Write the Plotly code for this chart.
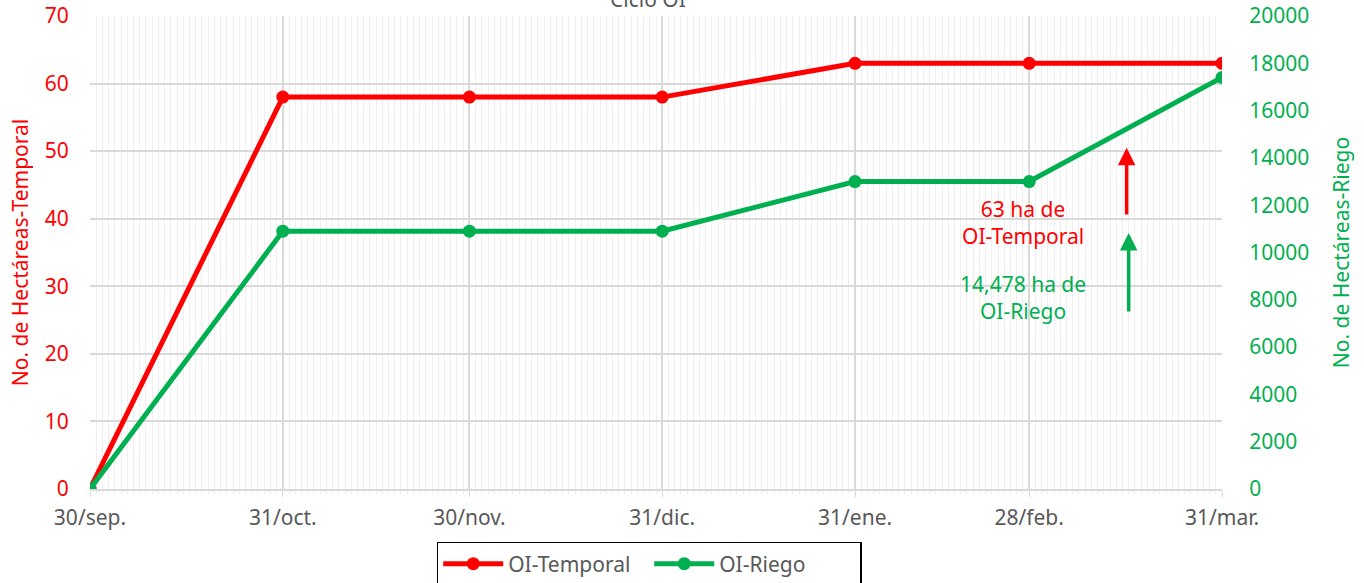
import plotly.graph_objects as go

fechas = ["2022-09-30", "2022-10-31", "2022-11-30", "2022-12-31", "2023-01-31", "2023-02-28", "2023-03-31"]
etiquetas = ["30/sep.", "31/oct.", "30/nov.", "31/dic.", "31/ene.", "28/feb.", "31/mar."]
oi_temporal = [0, 58, 58, 58, 63, 63, 63]
oi_riego = [0, 10900, 10900, 10900, 13000, 13000, 17400]

ROJO = "#FF0000"
VERDE = "#00B050"
GRIS = "#595959"
FONT = "Noto Sans"
FS = 21

fig = go.Figure()
fig.add_trace(go.Scatter(x=fechas, y=oi_temporal, name="OI-Temporal", mode="lines+markers",
                         line=dict(color=ROJO, width=5), marker=dict(size=13, color=ROJO), yaxis="y"))
fig.add_trace(go.Scatter(x=fechas, y=oi_riego, name="OI-Riego", mode="lines+markers",
                         line=dict(color=VERDE, width=5), marker=dict(size=13, color=VERDE), yaxis="y2"))

# arrows
fig.add_annotation(x="2023-03-15 16:00", y=50.5, ax="2023-03-15 16:00", ay=40.4, xref="x", yref="y", axref="x", ayref="y",
                   showarrow=True, arrowhead=2, arrowsize=1, arrowwidth=3.5, arrowcolor=ROJO, text="")
fig.add_annotation(x="2023-03-16", y=10824, ax="2023-03-16", ay=7442, xref="x", yref="y2", axref="x", ayref="y2",
                   showarrow=True, arrowhead=2, arrowsize=1, arrowwidth=3.5, arrowcolor=VERDE, text="")
fig.add_annotation(x="2023-02-27", y=39.5, xref="x", yref="y", showarrow=False,
                   text="63 ha de<br>OI-Temporal", font=dict(color=ROJO, size=21, family=FONT), align="center")
fig.add_annotation(x="2023-02-27", y=28.4, xref="x", yref="y", showarrow=False,
                   text="14,478 ha de<br>OI-Riego", font=dict(color=VERDE, size=21, family=FONT), align="center")
# title (partially cut at the top, as in the reference)
fig.add_annotation(x=0.493, y=1.036, xref="paper", yref="paper", xanchor="center", yanchor="middle",
                   showarrow=False, text="Ciclo OI", font=dict(size=21, color=GRIS, family=FONT))

fig.update_layout(
    width=1364, height=583,
    margin=dict(l=90, r=142, t=16, b=94, autoexpand=False),
    paper_bgcolor="white", plot_bgcolor="white",
    font=dict(family=FONT, color=GRIS, size=FS),
    xaxis=dict(
        type="date", range=["2022-09-30", "2023-03-31"], automargin=False,
        tickvals=fechas, ticktext=etiquetas,
        tickfont=dict(color=GRIS, size=FS), showgrid=True, gridcolor="#d9d9d9", gridwidth=1.5,
        ticks="outside", ticklen=6, tickcolor="#d9d9d9", ticklabelstandoff=3,
        showline=True, linecolor="#d9d9d9", linewidth=1.5, zeroline=False,
        minor=dict(dtick=86400000, showgrid=True, gridcolor="#efefef", gridwidth=1,
                   ticks="outside", ticklen=3, tickcolor="#efefef"),
    ),
    yaxis=dict(
        range=[0, 70], dtick=10, tickfont=dict(color=ROJO, size=FS), automargin=False,
        ticklabeloverflow="allow",
        title=dict(text="No. de Hectáreas-Temporal", font=dict(color=ROJO, size=21), standoff=10),
        showgrid=True, gridcolor="#d9d9d9", gridwidth=1.5, zeroline=False,
        ticks="outside", ticklen=16, tickcolor="rgba(0,0,0,0)",
    ),
    yaxis2=dict(
        range=[0, 20000], dtick=2000, overlaying="y", side="right", tickformat="d", automargin=False,
        ticklabeloverflow="allow",
        tickfont=dict(color=VERDE, size=FS),
        title=dict(text="No. de Hectáreas-Riego", font=dict(color=VERDE, size=21), standoff=26),
        showgrid=False, zeroline=False, ticks="outside", ticklen=22, tickcolor="rgba(0,0,0,0)",
    ),
    legend=dict(orientation="h", x=0.494, xanchor="center", y=-0.112, yanchor="top",
                bordercolor="black", borderwidth=1.5, font=dict(size=21, color=GRIS),
                itemwidth=60, entrywidth=136, tracegroupgap=0),
    showlegend=True,
)

fig.write_html("out.html", config={"displayModeBar": False},
               post_script="document.body.style.margin='0px';")
